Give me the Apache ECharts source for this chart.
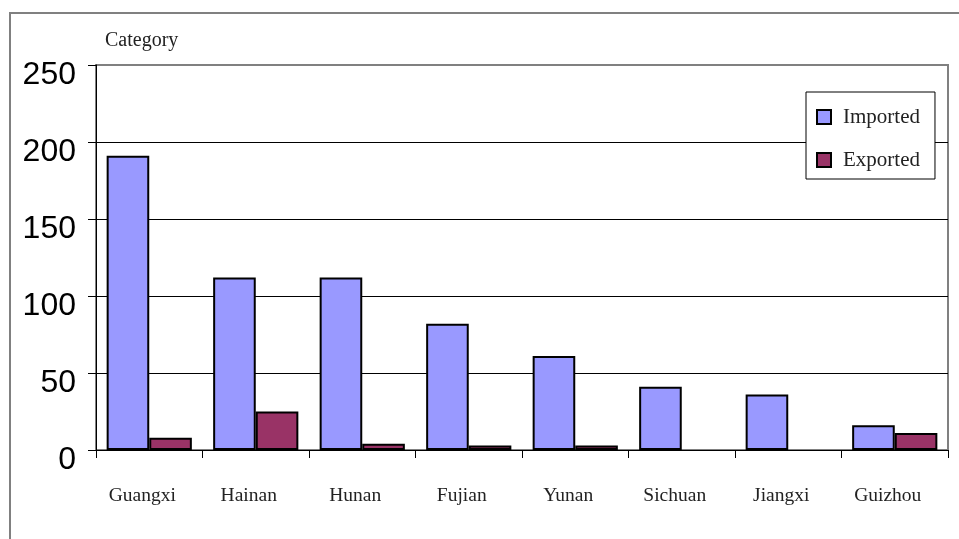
<!DOCTYPE html>
<html>
<head>
<meta charset="utf-8">
<script src="https://cdn.jsdelivr.net/npm/echarts@6/dist/echarts.min.js"></script>
<style>
  html, body { margin: 0; padding: 0; background: #fff; }
  #chart { width: 959px; height: 539px; }
</style>
</head>
<body>
<div id="chart"></div>
<script>
  // data
  var provinces = ['Guangxi', 'Hainan', 'Hunan', 'Fujian', 'Yunan', 'Sichuan', 'Jiangxi', 'Guizhou'];
  var imported = [191, 112, 112, 82, 61, 41, 36, 16];
  var exported = [8, 25, 4, 3, 3, 0, 0, 11];
  var yTicks = [0, 50, 100, 150, 200, 250];

  var serif = '"Liberation Serif", "DejaVu Serif", serif';

  // zero values are not drawn in the original
  function noZero(arr) {
    return arr.map(function (v) { return v === 0 ? '-' : v; });
  }

  var myChart = echarts.init(document.getElementById('chart'));

  var option = {
    animation: false,
    backgroundColor: '#fff',
    graphic: [
      {
        type: 'rect',
        shape: { x: 10, y: 13, width: 970, height: 560 },
        style: { fill: 'none', stroke: '#808080', lineWidth: 2 }
      },
      {
        type: 'text',
        left: 105,
        top: 31,
        style: { text: 'Category', font: '20px ' + serif, fill: '#222' }
      }
    ],
    grid: {
      left: 96, top: 65, right: 11, bottom: 89,
      show: true,
      borderColor: '#808080',
      borderWidth: 2
    },
    legend: {
      orient: 'vertical',
      left: 806,
      top: 92,
      padding: [14, 15, 8, 10],
      itemGap: 21,
      itemWidth: 14,
      itemHeight: 14,
      icon: 'rect',
      backgroundColor: '#fff',
      borderColor: '#000',
      borderWidth: 1,
      textStyle: { fontFamily: serif, fontSize: 21, color: '#222', lineHeight: 22, padding: [0, 0, 0, 7] },
      data: ['Imported', 'Exported']
    },
    xAxis: {
      type: 'category',
      data: provinces,
      axisLine: { lineStyle: { color: '#000', width: 1 } },
      axisTick: { show: true, length: 8, lineStyle: { color: '#000' } },
      axisLabel: { margin: 36, fontFamily: serif, fontSize: 19.5, color: '#222', padding: [0, 14, 0, 0] }
    },
    yAxis: {
      type: 'value',
      min: yTicks[0],
      max: yTicks[yTicks.length - 1],
      interval: 50,
      axisLine: { show: true, lineStyle: { color: '#000', width: 1 } },
      axisTick: { show: true, length: 8, lineStyle: { color: '#000' } },
      axisLabel: {
        margin: 20,
        fontFamily: 'Arial, "Liberation Sans", sans-serif',
        fontSize: 32,
        color: '#000',
        verticalAlign: 'top',
        lineHeight: 20
      },
      splitLine: { lineStyle: { color: ['#000', '#000', '#000', '#000', '#000', '#808080'], width: 1 } }
    },
    series: [
      {
        name: 'Imported',
        type: 'bar',
        data: noZero(imported),
        barGap: 0,
        barCategoryGap: '20%',
        itemStyle: { color: '#9999ff', borderColor: '#000', borderWidth: 2 }
      },
      {
        name: 'Exported',
        type: 'bar',
        data: noZero(exported),
        itemStyle: { color: '#993366', borderColor: '#000', borderWidth: 2 }
      }
    ]
  };

  myChart.setOption(option);
</script>
</body>
</html>
